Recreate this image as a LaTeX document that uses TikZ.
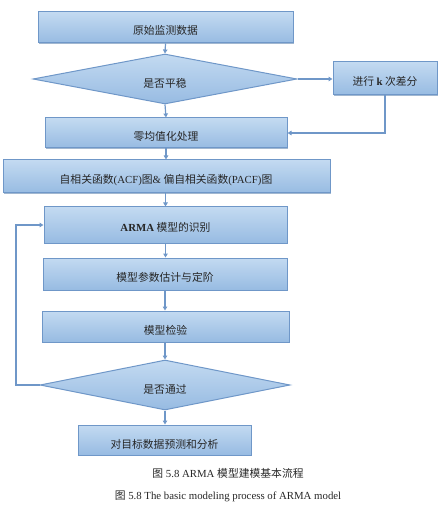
\documentclass[tikz,border=0pt]{standalone}
\usepackage{fontspec}
\setmainfont{Liberation Serif}
\newfontfamily\cjk{Noto Sans CJK SC}
\usetikzlibrary{arrows.meta,shapes.geometric,shadows}
\definecolor{bordc}{HTML}{6F97C8}
\definecolor{topc}{HTML}{C3DAF1}
\definecolor{botc}{HTML}{97BBE2}
\definecolor{linec}{HTML}{6F97C8}
\definecolor{txtc}{HTML}{262626}
\definecolor{shc}{HTML}{8AA5C4}
\begin{document}
\begin{tikzpicture}[x=1pt,y=-1pt,
  box/.style={draw=bordc, line width=1pt, top color=topc, bottom color=botc,
    inner sep=0pt, drop shadow={shadow xshift=0.8pt, shadow yshift=-1.2pt, fill=shc, opacity=0.8}},
  dia/.style={diamond, draw=bordc, line width=1pt, top color=topc, bottom color=botc,
    inner sep=0pt},
  lbl/.style={text=txtc, font=\cjk\fontsize{10.8}{12}\selectfont},
  arr/.style={draw=linec, line width=1.2pt, -{Triangle[length=4pt,width=4.5pt]}},
  captxt/.style={font=\fontsize{10.8}{12}\selectfont, text=txtc, inner sep=0pt}]
\useasboundingbox (0,0) rectangle (447,518);
\node[box, minimum width=255pt, minimum height=31pt] (n1) at (165.5,27.5) {};
\node[lbl] (t1) at (165.5,30) {原始监测数据};
\node[dia, minimum width=264pt, minimum height=50pt] (d1) at (165,79) {};
\node[lbl] (t2) at (165,83) {是否平稳};
\node[box, minimum width=104pt, minimum height=33pt] (diff) at (385,78.5) {};
\node[lbl] (t3) at (385,81) {进行 {\rmfamily\bfseries k} 次差分};
\node[box, minimum width=242pt, minimum height=30pt] (zero) at (166,133) {};
\node[lbl] (t4) at (166,136) {零均值化处理};
\node[box, minimum width=327pt, minimum height=33pt] (acf) at (166.5,176.5) {};
\node[lbl] (t5) at (166,180) {自相关函数{\rmfamily(ACF)}图{\rmfamily\&} 偏自相关函数{\rmfamily(PACF)}图};
\node[box, minimum width=243pt, minimum height=36pt] (arma) at (165.5,225) {};
\node[lbl] (t6) at (165.5,227) {{\rmfamily\bfseries ARMA} 模型的识别};
\node[box, minimum width=244pt, minimum height=32pt] (param) at (165,274) {};
\node[lbl] (t7) at (165,277) {模型参数估计与定阶};
\node[box, minimum width=247pt, minimum height=31pt] (check) at (165.5,326.5) {};
\node[lbl] (t8) at (165.5,330) {模型检验};
\node[dia, minimum width=250pt, minimum height=50pt] (d2) at (165,385) {};
\node[lbl] (t9) at (165,389) {是否通过};
\node[box, minimum width=173pt, minimum height=30pt] (final) at (164.5,440) {};
\node[lbl] (t10) at (164.5,444) {对目标数据预测和分析};
\draw[arr] (n1.south) -- (d1.north);
\draw[arr] (d1.east) -- (diff.west |- d1.east);
\draw[arr] (d1.south) -- (zero.north);
\draw[arr] (diff.south) -- (diff.south |- zero.east) -- (zero.east);
\draw[arr] (zero.south) -- (acf.north -| zero.south);
\draw[arr] (acf.south -| arma.north) -- (arma.north);
\draw[arr] (arma.south) -- (param.north -| arma.south);
\draw[arr] (param.south) -- (check.north -| param.south);
\draw[arr] (check.south -| d2.north) -- (d2.north);
\draw[arr] (d2.south) -- (final.north -| d2.south);
\coordinate (lp) at (16,385);
\draw[arr] (d2.west) -- (lp) |- (arma.west);
\node[captxt] (c1) at (228,473) {{\cjk 图} 5.8 ARMA {\cjk 模型建模基本流程}};
\node[captxt] (c2) at (228,496) {{\cjk 图} 5.8 The basic modeling process of ARMA model};
\end{tikzpicture}
\end{document}
